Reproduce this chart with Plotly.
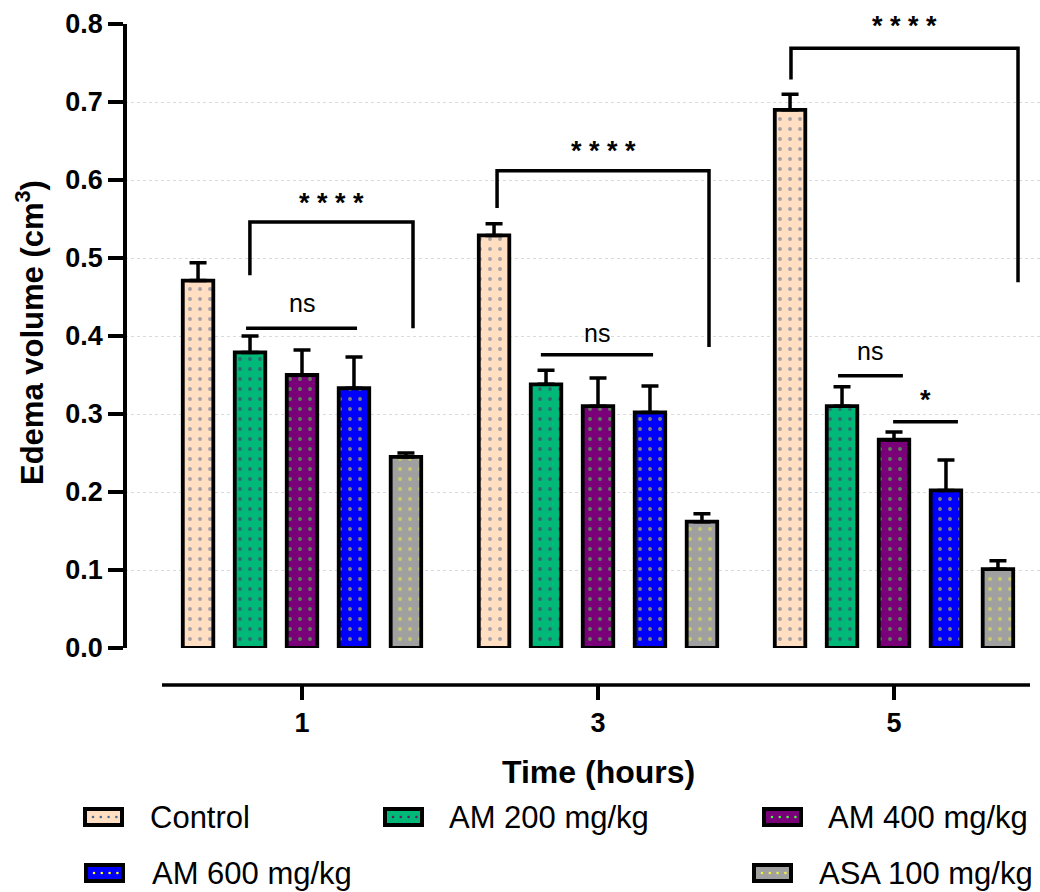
import plotly.graph_objects as go

W, H = 1040, 892

# ---------------- data ----------------
time_labels = ["1", "3", "5"]
series_names = ["Control", "AM 200 mg/kg", "AM 400 mg/kg", "AM 600 mg/kg", "ASA 100 mg/kg"]
control = [0.471, 0.529, 0.690]
am200 = [0.379, 0.338, 0.310]
am400 = [0.350, 0.310, 0.267]
am600 = [0.333, 0.302, 0.202]
asa100 = [0.245, 0.162, 0.101]
control_err = [0.023, 0.015, 0.020]
am200_err = [0.021, 0.018, 0.025]
am400_err = [0.032, 0.036, 0.010]
am600_err = [0.040, 0.034, 0.039]
asa100_err = [0.005, 0.010, 0.011]
y_ticks = [0.0, 0.1, 0.2, 0.3, 0.4, 0.5, 0.6, 0.7, 0.8]

# significance brackets: (x_left, x_right, y_left_bottom, y_top, y_right_bottom, label, label_y)
brackets = [
    (-0.176, 0.375, 0.478, 0.546, 0.410, "* * * *", 0.570),
    (0.659, 1.375, 0.564, 0.612, 0.386, "* * * *", 0.637),
    (1.652, 2.419, 0.729, 0.769, 0.469, "* * * *", 0.797),
]
# simple comparison lines: (x_left, x_right, y, label, label_y)
comparisons = [
    (-0.189, 0.186, 0.410, "ns", 0.442),
    (0.807, 1.186, 0.376, "ns", 0.404),
    (1.811, 2.030, 0.349, "ns", 0.381),
    (1.997, 2.216, 0.290, "*", 0.318),
]

values = [control, am200, am400, am600, asa100]
errors = [control_err, am200_err, am400_err, am600_err, asa100_err]
bg_colors = ["#FFDEC2", "#00B877", "#7A007A", "#0000FF", "#A0A0A0"]
dot_colors = ["#4F6A8F", "#5E1E66", "#3CFF3C", "#FFFF00", "#F2F23A"]

FONT = "Arial, Liberation Sans, sans-serif"
x_pos = list(range(len(time_labels)))

fig = go.Figure()
for name, vals, errs, bg, fg in zip(series_names, values, errors, bg_colors, dot_colors):
    fig.add_trace(go.Bar(
        x=x_pos, y=vals, name=name,
        marker=dict(color=bg, line=dict(color="black", width=3.8),
                    pattern=dict(shape=".", fgcolor=fg, bgcolor=bg, size=10, solidity=0.12,
                                 fillmode="overlay")),
        error_y=dict(type="data", symmetric=False, array=errs, arrayminus=[0] * len(errs),
                     color="black", thickness=3.5, width=8.5),
        showlegend=False,
    ))

def px(x):
    return x / W

def py(y):
    return 1 - y / H

shapes = []
annotations = []

# brackets
for xl, xr, yl, yt, yr, lab, ly in brackets:
    shapes.append(dict(type="path", xref="x", yref="y",
                       path=f"M {xl},{yl} L {xl},{yt} L {xr},{yt} L {xr},{yr}",
                       line=dict(color="black", width=3.5)))
    annotations.append(dict(x=(xl + xr) / 2, y=ly, xref="x", yref="y", text=lab,
                            showarrow=False, font=dict(family=FONT, size=27, color="black", weight="bold"),
                            xanchor="center", yanchor="middle"))
for xl, xr, yv, lab, ly in comparisons:
    shapes.append(dict(type="line", xref="x", yref="y", x0=xl, x1=xr, y0=yv, y1=yv,
                       line=dict(color="black", width=3.5)))
    bold = "bold" if lab == "*" else "normal"
    annotations.append(dict(x=(xl + xr) / 2, y=ly, xref="x", yref="y", text=lab,
                            showarrow=False, font=dict(family=FONT, size=27 if lab == "*" else 25,
                                                       color="black", weight=bold),
                            xanchor="center", yanchor="middle"))

# detached x-axis line
shapes.append(dict(type="line", xref="paper", yref="paper", x0=px(162), x1=px(1030),
                   y0=py(685), y1=py(685), line=dict(color="black", width=3.5)))

# legend (manual)
legend_items = [
    (83, 807, 148), (383, 807, 447), (762, 807, 826),
    (84, 863, 150), (752, 863, 817),
]
for (bx, by, tx), name, bg, fg in zip(legend_items, series_names, bg_colors, dot_colors):
    shapes.append(dict(type="rect", xref="paper", yref="paper",
                       x0=px(bx + 2), x1=px(bx + 39), y0=py(by + 2), y1=py(by + 18),
                       fillcolor=bg, line=dict(color="black", width=4)))
    for k in range(4):
        cx = bx + 10 + 7.8 * k
        cy = by + 10
        shapes.append(dict(type="circle", xref="paper", yref="paper",
                           x0=px(cx - 1.3), x1=px(cx + 1.3), y0=py(cy - 1.3), y1=py(cy + 1.3),
                           fillcolor=fg, line=dict(width=0)))
    annotations.append(dict(x=px(tx), y=py(by + 10), xref="paper", yref="paper", text=name,
                            showarrow=False, xanchor="left", yanchor="middle",
                            font=dict(family=FONT, size=31, color="black")))

# axis titles
annotations.append(dict(x=px(30), y=py(333), xref="paper", yref="paper",
                        text="Edema volume (cm<sup>3</sup>)", textangle=-90, showarrow=False,
                        xanchor="center", yanchor="middle",
                        font=dict(family=FONT, size=31, color="black", weight="bold")))
annotations.append(dict(x=px(598), y=py(772), xref="paper", yref="paper",
                        text="Time (hours)", showarrow=False, xanchor="center", yanchor="middle",
                        font=dict(family=FONT, size=32, color="black", weight="bold")))

x_range = [(125 - 302) / 296, (1040 - 302) / 296]

fig.update_layout(
    width=W, height=H,
    margin=dict(l=0, r=0, t=0, b=0),
    paper_bgcolor="white", plot_bgcolor="white",
    barmode="group", bargap=0.122, bargroupgap=0.413,
    showlegend=False,
    shapes=shapes, annotations=annotations,
    xaxis=dict(domain=[px(125), 1.0], range=x_range, anchor="free", position=py(685),
               tickmode="array", tickvals=x_pos, ticktext=time_labels,
               showline=False, showgrid=False, zeroline=False,
               ticks="outside", ticklen=14, tickwidth=3.5, tickcolor="black",
               tickfont=dict(family=FONT, size=27, color="black", weight="bold"),
               automargin=False),
    yaxis=dict(domain=[py(648), py(24)], range=[0, 0.8], anchor="free", position=px(125),
               tickmode="array", tickvals=y_ticks, ticktext=[f"{v:.1f}" for v in y_ticks],
               showline=True, linewidth=3.5, linecolor="black",
               ticks="outside", ticklen=15, tickwidth=3.5, tickcolor="black",
               tickfont=dict(family=FONT, size=27, color="black", weight="bold"),
               showgrid=True, gridcolor="#dadada", gridwidth=1.2, griddash="dot",
               zeroline=True, zerolinecolor="white", zerolinewidth=1,
               automargin=False),
)

fig.write_html("out.html")
